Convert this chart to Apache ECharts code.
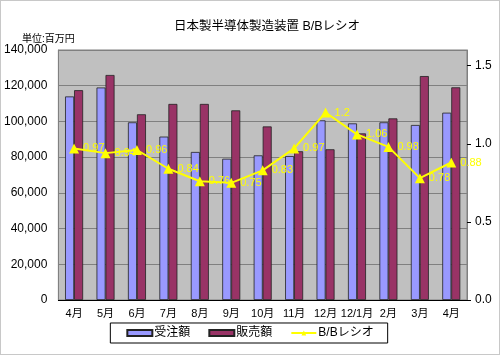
<!DOCTYPE html>
<html><head><meta charset="utf-8">
<script src="https://cdn.jsdelivr.net/npm/echarts@6/dist/echarts.min.js"></script>
<style>
html,body{margin:0;padding:0;background:#fff;}
#c{width:498px;height:353px;border:1px solid #c8c8c8;}
</style></head>
<body><div id="c"></div>
<script>
var categories = ['4月','5月','6月','7月','8月','9月','10月','11月','12月','12/1月','2月','3月','4月'];
var orders = [114000,119000,99500,91500,82900,79100,81000,80600,100600,98900,99500,98000,104900];
var sales = [117500,126000,104000,109800,109800,106200,97200,83300,84400,93300,101700,125400,119100];
var bbRatio = [0.97,0.94,0.96,0.84,0.76,0.75,0.83,0.97,1.2,1.06,0.98,0.78,0.88];
var leftTicks = {min:0, max:140000, interval:20000};
var rightTicks = {min:0, max:1.6, interval:0.5};

var font = 'Liberation Sans, Arial, "Noto Sans CJK JP", sans-serif';
var chart = echarts.init(document.getElementById('c'));
chart.setOption({
  animation:false,
  backgroundColor:'#fff',
  textStyle:{fontFamily:font},
  title:{text:'日本製半導体製造装置 B/Bレシオ', left:261, top:14, textAlign:'center',
    textStyle:{fontSize:12.5, fontWeight:'normal', color:'#000', fontFamily:font}},
  graphic:[{type:'text', left:21, top:33, style:{text:'単位:百万円', fontSize:10, fill:'#000', fontFamily:font}}],
  grid:{left:57, right:32, top:49, bottom:54, show:true, backgroundColor:'#c0c0c0', borderColor:'#808080', borderWidth:1},
  legend:{bottom:11, left:'center', itemWidth:25, itemHeight:6, itemGap:18,
    borderColor:'#000', borderWidth:1, backgroundColor:'#fff', padding:[4,14,4,16],
    textStyle:{fontSize:12, color:'#000', fontFamily:font, padding:[0,0,0,-3]},
    data:[{name:'受注額', icon:'rect'},{name:'販売額', icon:'rect'},{name:'B/Bレシオ'}]},
  xAxis:{type:'category', data:categories,
    axisLine:{lineStyle:{color:'#000', width:1}},
    axisTick:{inside:true, length:3, lineStyle:{color:'#000'}},
    axisLabel:{color:'#000', fontSize:11, margin:8, interval:0, fontFamily:font}},
  yAxis:[
    {type:'value', min:leftTicks.min, max:leftTicks.max, interval:leftTicks.interval,
      axisLine:{show:true, lineStyle:{color:'#808080'}},
      axisTick:{show:false},
      axisLabel:{color:'#000', fontSize:12, margin:11, fontFamily:font,
        formatter:function(v){return v.toLocaleString('en-US');}},
      splitLine:{lineStyle:{color:'#808080', width:1}}},
    {type:'value', min:rightTicks.min, max:rightTicks.max, interval:rightTicks.interval,
      axisLine:{show:true, lineStyle:{color:'#808080'}},
      axisTick:{show:true, length:4, lineStyle:{color:'#000'}},
      axisLabel:{color:'#000', fontSize:12, margin:8, showMaxLabel:false, fontFamily:font,
        formatter:function(v){return v.toFixed(1);}},
      splitLine:{show:false}}
  ],
  series:[
    {name:'受注額', type:'bar', data:orders, barWidth:9, barGap:'0%',
      itemStyle:{color:'#9999ff', borderColor:'#222', borderWidth:0.8}},
    {name:'販売額', type:'bar', data:sales, barWidth:9,
      itemStyle:{color:'#993366', borderColor:'#222', borderWidth:0.8}},
    {name:'B/Bレシオ', type:'line', yAxisIndex:1, data:bbRatio,
      symbol:'triangle', symbolSize:10,
      lineStyle:{color:'#ffff00', width:2},
      itemStyle:{color:'#ffff00'},
      label:{show:true, position:'right', distance:4, color:'#ffff00', fontSize:11, fontFamily:font}}
  ]
});
</script></body></html>
